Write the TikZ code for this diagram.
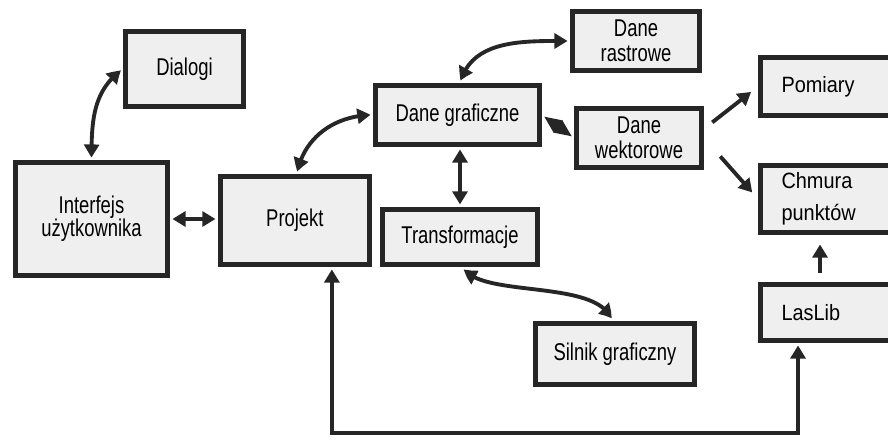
\documentclass[tikz,border=0pt]{standalone}
\usepackage{fontspec}
\setmainfont{Liberation Sans}[FakeStretch=0.76]
\newfontfamily\widefont{Liberation Sans}[FakeStretch=0.9]
\usepackage{xcolor}
\usetikzlibrary{arrows.meta, bending, positioning}

\definecolor{boxfill}{HTML}{EFEFEF}
\definecolor{ink}{HTML}{262626}

\begin{document}
\begin{tikzpicture}[
    x=0.02cm, y=-0.02cm,
    box/.style={rectangle, draw=ink, fill=boxfill, line width=2.8pt, align=center, inner sep=2pt, font=\fontsize{13.8}{14}\selectfont},
    sidebox/.style={box, font=\widefont\fontsize{12.6}{18}\selectfont, text width=2.4cm, align=left, inner xsep=0.42cm},
    link/.style={ink, line width=2.2pt, shorten <=1.4pt, shorten >=1.4pt, {Triangle[length=7.5pt,width=8.5pt,bend]}-{Triangle[length=7.5pt,width=8.5pt,bend]}},
    joint/.style={ink, line width=2.2pt, shorten <=1.4pt, shorten >=1.4pt, {Triangle[length=10pt,width=8pt]}-{Triangle[length=10pt,width=8pt]}},
    arrow/.style={ink, line width=2.2pt, -{Triangle[length=7.5pt,width=8.5pt]}}
]
    \useasboundingbox (0,0) rectangle (888,439);
    \clip (0,0) rectangle (888,439);

    % left part
    \node (ui) [box, minimum width=3.04cm, minimum height=2.26cm, font=\fontsize{13.8}{13}\selectfont] at (91.5,219) {Interfejs\\użytkownika};
    \node (dialogi) [box, minimum width=2.36cm, minimum height=1.5cm] at (184.5,69) {Dialogi};
    \node (projekt) [box, minimum width=2.98cm, minimum height=1.76cm, right=0.96cm of ui, yshift=-0.03cm] {Projekt};

    % middle part
    \node (grafika) [box, minimum width=3.28cm, minimum height=1.18cm] at (457.5,115) {Dane graficzne};
    \node (transf) [box, minimum width=3.1cm, minimum height=1.1cm, below=1.2cm of grafika, xshift=0.05cm] {Transformacje};
    \node (raster) [box, minimum width=2.54cm, minimum height=1.18cm] at (636,41) {Dane\\rastrowe};
    \node (wektor) [box, minimum width=2.5cm, minimum height=1.18cm] at (639,138) {Dane\\wektorowe};
    \node (silnik) [box, minimum width=3.18cm, minimum height=1.22cm] at (615,354) {Silnik graficzny};

    % right part
    \node (pomiary) [sidebox, minimum height=1.16cm] at (841.5,86.5) {Pomiary};
    \node (chmura) [sidebox, minimum height=1.34cm] at (841.5,199) {Chmura\\punktów};
    \node (laslib) [sidebox, minimum height=1.12cm] at (841.5,312.5) {LasLib};

    \coordinate (floor) at (0,433);

    % connectors
    \draw [link] (dialogi.west) to[out=215, in=90] (ui.north);
    \draw [link] (ui.east) -- (ui.east -| projekt.west);
    \draw [link] ([xshift=0.04cm]projekt.north) to[out=80, in=180] (grafika.west);
    \draw [link] ([xshift=0.05cm]grafika.north) to[out=75, in=180] (raster.west);
    \draw [joint] (grafika.east) -- (wektor.west);
    \draw [link] (transf.north |- grafika.south) -- (transf.north);
    \draw [link] ([xshift=0.06cm]transf.south) .. controls +(15,32) and +(-12,-43) .. ([xshift=-0.06cm]silnik.north);
    \draw [arrow, shorten <=6pt, shorten >=5pt] (wektor.8) -- (pomiary.west);
    \draw [arrow, shorten <=14pt, shorten >=5pt] (wektor.east) -- (chmura.west);
    \draw [arrow, shorten <=5.4pt, shorten >=5.4pt] ([xshift=-0.43cm]laslib.north) -- ([xshift=-0.43cm]chmura.south);
    \draw [link, line width=2pt] ([xshift=0.74cm]projekt.south) -- ([xshift=0.74cm]projekt.south |- floor) -| ([xshift=-0.87cm]laslib.south);

\end{tikzpicture}
\end{document}
